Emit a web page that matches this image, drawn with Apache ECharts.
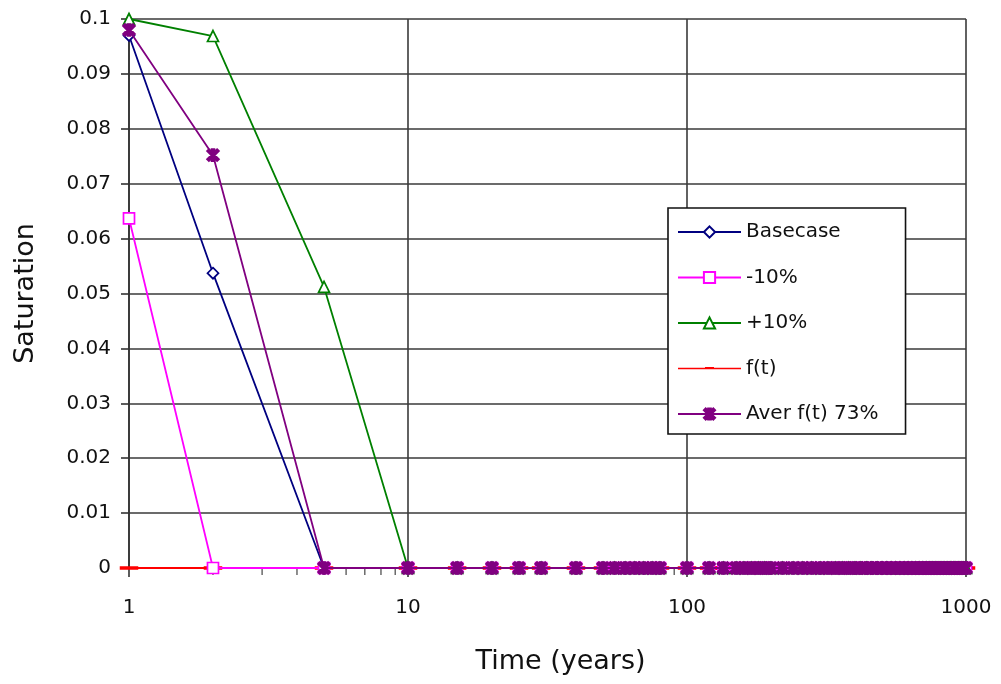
<!DOCTYPE html>
<html>
<head>
<meta charset="utf-8">
<script src="https://cdn.jsdelivr.net/npm/echarts@6/dist/echarts.min.js"></script>
<style>
html,body{margin:0;padding:0;background:#fff;}
#chart{width:1001px;height:684px;}
</style>
</head>
<body>
<div id="chart"></div>
<script>
// Time points (years)
const times = [1, 2, 5, 10, 15, 20, 25, 30, 40, 50, 55, 60, 65, 70, 75, 80, 100, 120, 135, 150, 160, 170, 180, 190, 200,
  220, 240, 260, 280, 300, 320, 340, 360, 380, 400, 420, 440, 460, 480, 500, 520, 540, 560, 580, 600,
  620, 640, 660, 680, 700, 720, 740, 760, 780, 800, 820, 840, 860, 880, 900, 920, 940, 960, 980, 1000];

const basecase = [0.097, 0.0537, 0, 0, 0, 0, 0, 0, 0, 0, 0, 0, 0, 0, 0, 0, 0, 0, 0, 0, 0, 0, 0, 0, 0,
  0, 0, 0, 0, 0, 0, 0, 0, 0, 0, 0, 0, 0, 0, 0, 0, 0, 0, 0, 0,
  0, 0, 0, 0, 0, 0, 0, 0, 0, 0, 0, 0, 0, 0, 0, 0, 0, 0, 0, 0];
const minus10 = [0.0637, 0, 0, 0, 0, 0, 0, 0, 0, 0, 0, 0, 0, 0, 0, 0, 0, 0, 0, 0, 0, 0, 0, 0, 0,
  0, 0, 0, 0, 0, 0, 0, 0, 0, 0, 0, 0, 0, 0, 0, 0, 0, 0, 0, 0,
  0, 0, 0, 0, 0, 0, 0, 0, 0, 0, 0, 0, 0, 0, 0, 0, 0, 0, 0, 0];
const plus10 = [0.1, 0.0969, 0.0512, 0, 0, 0, 0, 0, 0, 0, 0, 0, 0, 0, 0, 0, 0, 0, 0, 0, 0, 0, 0, 0, 0,
  0, 0, 0, 0, 0, 0, 0, 0, 0, 0, 0, 0, 0, 0, 0, 0, 0, 0, 0, 0,
  0, 0, 0, 0, 0, 0, 0, 0, 0, 0, 0, 0, 0, 0, 0, 0, 0, 0, 0, 0];
const ft = [0, 0, 0, 0, 0, 0, 0, 0, 0, 0, 0, 0, 0, 0, 0, 0, 0, 0, 0, 0, 0, 0, 0, 0, 0,
  0, 0, 0, 0, 0, 0, 0, 0, 0, 0, 0, 0, 0, 0, 0, 0, 0, 0, 0, 0,
  0, 0, 0, 0, 0, 0, 0, 0, 0, 0, 0, 0, 0, 0, 0, 0, 0, 0, 0, 0];
const aver73 = [0.098, 0.0752, 0, 0, 0, 0, 0, 0, 0, 0, 0, 0, 0, 0, 0, 0, 0, 0, 0, 0, 0, 0, 0, 0, 0,
  0, 0, 0, 0, 0, 0, 0, 0, 0, 0, 0, 0, 0, 0, 0, 0, 0, 0, 0, 0,
  0, 0, 0, 0, 0, 0, 0, 0, 0, 0, 0, 0, 0, 0, 0, 0, 0, 0, 0, 0];

const seriesNames = ['Basecase', '-10%', '+10%', 'f(t)', 'Aver f(t) 73%'];
const minorTicks = [2, 3, 4, 5, 6, 7, 8, 9, 20, 30, 40, 50, 60, 70, 80, 90, 200, 300, 400, 500, 600, 700, 800, 900];

const FONT = 'DejaVu Sans';
const TEXT = '#111';
const pairs = vals => times.map((t, i) => [t, vals[i]]);
const asterisk = 'path://M3.8,0L6.2,0L6.2,10L3.8,10Z M0,1.6L1.6,0L10,8.4L8.4,10Z M8.4,0L10,1.6L1.6,10L0,8.4Z';
// legend icon for f(t): a thin red line with a small dash marker (corner specks fix the box)
const ftIcon = 'path://M0,0L0.05,0L0,0.05Z M63,14L62.95,14L63,13.95Z M0,6.2L63,6.2L63,7.8L0,7.8Z M27,5.4L36,5.4L36,6.2L27,6.2Z';

function lineSeries(name, vals, color, symbol, size, fill) {
  return {
    name: name, type: 'line', data: pairs(vals),
    symbol: symbol, symbolSize: size, showSymbol: true,
    lineStyle: { color: color, width: 1.8 },
    itemStyle: { color: fill, borderColor: color, borderWidth: 1.7 },
    emphasis: { disabled: true },
    clip: false
  };
}

const chart = echarts.init(document.getElementById('chart'), null, { renderer: 'canvas' });
chart.setOption({
  animation: false,
  backgroundColor: '#fff',
  grid: { left: 129, right: 35, top: 19, bottom: 116, containLabel: false },
  legend: {
    data: seriesNames.map(n => n === 'f(t)'
      ? { name: n, icon: ftIcon, itemStyle: { color: '#ff0000', borderWidth: 0 } }
      : { name: n }),
    orient: 'vertical',
    left: 668, top: 208,
    padding: [14, 27, 10, 9],
    itemWidth: 63, itemHeight: 14, itemGap: 25.5,
    backgroundColor: '#fff',
    borderColor: '#111', borderWidth: 1.6, borderRadius: 0,
    textStyle: { fontFamily: FONT, fontSize: 20, color: TEXT, lineHeight: 20 },
    selectedMode: false
  },
  xAxis: {
    type: 'log', logBase: 10, min: 1, max: 1000,
    name: 'Time (years)', nameLocation: 'middle', nameGap: 80,
    nameTextStyle: { fontFamily: FONT, fontSize: 27, color: TEXT, padding: [0, 0, 0, 26] },
    axisLine: { show: true, lineStyle: { color: '#333', width: 1.6 } },
    axisTick: { show: true, length: 9, lineStyle: { color: '#333', width: 1.6 } },
    axisLabel: { fontFamily: FONT, fontSize: 20, color: TEXT, margin: 30,
      formatter: v => String(Math.round(v)) },
    splitLine: { show: true, lineStyle: { color: '#3a3a3a', width: 1.6 } },
    minorTick: { show: false }
  },
  yAxis: {
    type: 'value', min: 0, max: 0.1, interval: 0.01,
    name: 'Saturation', nameLocation: 'middle', nameGap: 90, nameRotate: 90,
    nameTextStyle: { fontFamily: FONT, fontSize: 27, color: TEXT },
    axisLine: { show: true, lineStyle: { color: '#333', width: 1.6 } },
    axisTick: { show: true, length: 8, lineStyle: { color: '#333', width: 1.6 } },
    axisLabel: { fontFamily: FONT, fontSize: 20, color: TEXT, margin: 18,
      formatter: v => String(Math.round(v * 100) / 100) },
    splitLine: { show: true, lineStyle: { color: '#3a3a3a', width: 1.6 } }
  },
  series: [
    {
      name: 'minor', type: 'scatter', data: minorTicks.map(t => [t, 0]),
      symbol: 'rect', symbolSize: [1.5, 6], symbolOffset: [0, 4],
      itemStyle: { color: '#444' }, silent: true, clip: false, z: 1
    },
    Object.assign(lineSeries('f(t)', ft, '#ff0000', 'rect', [10, 2], '#ff0000'), { z: 2 }),
    Object.assign(lineSeries('Basecase', basecase, '#000080', 'diamond', 11, '#ffffff'), { z: 3 }),
    Object.assign(lineSeries('-10%', minus10, '#ff00ff', 'rect', 11, '#ffffff'), { z: 4 }),
    Object.assign(lineSeries('+10%', plus10, '#008000', 'triangle', 11, '#ffffff'), { z: 5 }),
    Object.assign(lineSeries('Aver f(t) 73%', aver73, '#800080', asterisk, 12, '#800080'), { z: 6 })
  ]
});
</script>
</body>
</html>
